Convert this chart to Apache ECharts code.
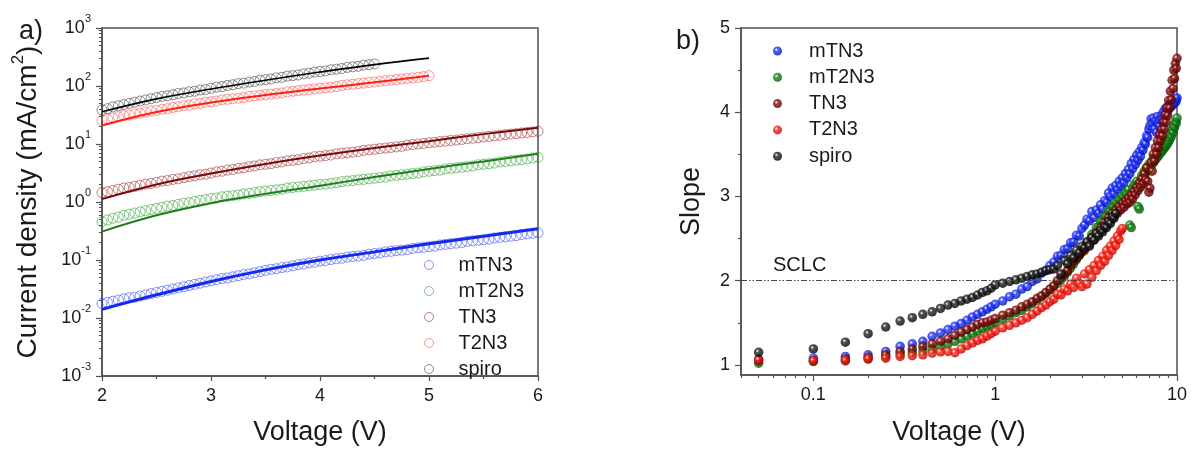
<!DOCTYPE html>
<html><head><meta charset="utf-8">
<script src="https://cdn.jsdelivr.net/npm/echarts@6/dist/echarts.min.js"></script>
<style>html,body{margin:0;padding:0;background:#fff}#c{width:1191px;height:453px}</style>
</head><body><div id="c"></div>
<script>
// ---------- DATA ----------
const names = ['mTN3','mT2N3','TN3','T2N3','spiro'];

// Panel a) : J-V (mA/cm2 vs V)
const leftV = [2,2.05,2.1,2.15,2.2,2.25,2.3,2.35,2.4,2.45,2.5,2.55,2.6,2.65,2.7,2.75,2.8,2.85,2.9,2.95,3,3.05,3.1,3.15,3.2,3.25,3.3,3.35,3.4,3.45,3.5,3.55,3.6,3.65,3.7,3.75,3.8,3.85,3.9,3.95,4,4.05,4.1,4.15,4.2,4.25,4.3,4.35,4.4,4.45,4.5,4.55,4.6,4.65,4.7,4.75,4.8,4.85,4.9,4.95,5,5.05,5.1,5.15,5.2,5.25,5.3,5.35,5.4,5.45,5.5,5.55,5.6,5.65,5.7,5.75,5.8,5.85,5.9,5.95,6];
const jMTN3 = [0.0178,0.0186,0.0195,0.0204,0.0214,0.0224,0.0229,0.0240,0.0251,0.0263,0.0275,0.0288,0.0302,0.0316,0.0331,0.0347,0.0363,0.0380,0.0398,0.0417,0.0437,0.0457,0.0479,0.0490,0.0513,0.0537,0.0562,0.0575,0.0603,0.0631,0.0661,0.0692,0.0708,0.0741,0.0759,0.0794,0.0832,0.0851,0.0891,0.0912,0.0955,0.0977,0.102,0.105,0.107,0.112,0.115,0.117,0.120,0.126,0.129,0.132,0.138,0.141,0.145,0.148,0.151,0.158,0.162,0.166,0.170,0.174,0.182,0.186,0.191,0.195,0.200,0.209,0.214,0.219,0.224,0.229,0.240,0.245,0.251,0.257,0.263,0.275,0.282,0.288,0.295];
const jMT2N3 = [0.457,0.490,0.525,0.550,0.589,0.617,0.646,0.676,0.708,0.741,0.776,0.813,0.851,0.871,0.912,0.955,0.977,1.02,1.07,1.10,1.15,1.17,1.23,1.26,1.29,1.32,1.38,1.41,1.45,1.51,1.55,1.58,1.62,1.66,1.74,1.78,1.82,1.86,1.91,1.95,2.00,2.04,2.09,2.14,2.24,2.29,2.34,2.40,2.45,2.51,2.57,2.63,2.69,2.82,2.88,2.95,3.02,3.09,3.16,3.31,3.39,3.47,3.55,3.72,3.80,3.89,3.98,4.07,4.17,4.37,4.47,4.57,4.68,4.90,5.01,5.13,5.25,5.37,5.50,5.75,5.89];
const jTN3 = [1.45,1.51,1.58,1.66,1.74,1.78,1.86,1.95,2.04,2.09,2.19,2.29,2.34,2.45,2.51,2.63,2.75,2.82,2.95,3.02,3.16,3.31,3.39,3.55,3.63,3.80,3.89,4.07,4.17,4.37,4.47,4.57,4.79,4.90,5.13,5.25,5.37,5.62,5.75,6.03,6.17,6.31,6.46,6.76,6.92,7.08,7.24,7.41,7.76,7.94,8.13,8.32,8.51,8.71,8.91,9.12,9.55,9.77,10.0,10.2,10.5,10.7,11.0,11.2,11.5,11.7,12.0,12.3,12.6,12.9,13.2,13.5,13.8,14.1,14.5,14.8,15.1,15.5,15.8,16.2,16.6];
const jT2N3 = [25.7,26.9,28.2,29.5,30.9,31.6,33.1,33.9,35.5,37.2,38.0,39.8,40.7,42.7,43.7,45.7,46.8,49.0,50.1,52.5,53.7,55.0,57.5,58.9,60.3,61.7,63.1,66.1,67.6,69.2,70.8,72.4,74.1,75.9,79.4,81.3,83.2,85.1,87.1,89.1,91.2,93.3,95.5,97.7,102,105,107,110,112,115,117,120,123,126,129,132,135,138,141,145,151];
const jSpiro = [38.9,40.7,43.7,45.7,47.9,50.1,52.5,55.0,57.5,60.3,63.1,66.1,67.6,70.8,74.1,75.9,79.4,81.3,85.1,87.1,91.2,95.5,97.7,102,105,110,112,117,120,126,129,132,138,141,148,151,155,162,166,174,178,182,191,195,200,209,214,219,229,234,240];

// fitted curves (solid lines)
const fitV = [2,2.5,3,3.5,4,4.5,5,5.5,6];
const fitMTN3 = [0.0141,0.0251,0.0427,0.0676,0.100,0.138,0.191,0.257,0.347];
const fitMT2N3 = [0.309,0.589,0.955,1.38,1.91,2.69,3.72,5.01,6.76];
const fitTN3 = [1.12,2.00,3.09,4.52,6.31,8.51,11.2,14.8,19.1];
const fitT2N3 = [20.9,35.5,51.9,70.0,90.2,116,150];
const fitSpiro = [35.9,60.0,89.0,126,174,234,302];

// Panel b) : slope vs V
const rightV = [0.05,0.1,0.15,0.2,0.25,0.3,0.35,0.4,0.45,0.5,0.55,0.6,0.65,0.7,0.75,0.8,0.85,0.9,0.95,1,1.1,1.2,1.3,1.4,1.5,1.6,1.7,1.8,1.9,2,2.1,2.2,2.3,2.4,2.5,2.6,2.7,2.8,2.9,3,3.1,3.2,3.3,3.4,3.5,3.6,3.7,3.8,3.9,4,4.1,4.2,4.3,4.4,4.5,4.6,4.7,4.8,4.9,5,5.1,5.2,5.3,5.4,5.5,5.6,5.7,5.8,5.9,6,6.1,6.2,6.3,6.4,6.5,6.6,6.7,6.8,6.9,7,7.1,7.2,7.3,7.4,7.5,7.6,7.7,7.8,7.9,8,8.1,8.2,8.3,8.4,8.5,8.6,8.7,8.8,8.9,9,9.1,9.2,9.3,9.4,9.5,9.6,9.7,9.8,9.9,10];
const sMTN3 = [1.07,1.08,1.10,1.12,1.16,1.22,1.25,1.28,1.34,1.38,1.42,1.46,1.49,1.53,1.57,1.60,1.63,1.66,1.69,1.72,
  1.76,1.81,1.84,1.90,1.93,1.99,2.02,2.09,2.12,2.18,
  2.22,2.29,2.30,2.37,2.38,2.45,2.46,2.54,2.53,2.62,
  2.66,2.73,2.71,2.82,2.75,2.84,2.80,2.90,2.85,2.95,
  2.93,3.04,3.00,3.10,3.03,3.13,3.08,3.18,3.12,3.22,
  3.16,3.27,3.22,3.32,3.27,3.39,3.33,3.44,3.38,3.49,
  3.43,3.53,3.48,3.58,3.55,3.64,3.62,3.72,3.70,3.80,
  3.84,3.92,3.87,3.93,3.80,3.90,3.76,3.95,3.88,3.84,
  3.91,3.96,3.92,4.00,3.95,4.04,3.98,4.06,4.02,4.08,
  4.05,4.10,4.07,4.12,4.09,4.14,4.11,4.16,4.13,4.17];
const sMT2N3 = [1.02,1.04,1.05,1.07,1.10,1.13,1.15,1.17,1.19,1.22,1.25,1.28,1.31,1.34,1.37,1.40,1.43,1.45,1.47,1.50,
  1.54,1.58,1.62,1.65,1.69,1.73,1.77,1.81,1.85,1.89,
  1.93,1.97,2.01,2.05,2.10,2.15,2.20,2.25,2.30,2.35,
  2.40,2.46,2.48,2.55,2.56,2.63,2.64,2.70,2.70,2.76,
  2.76,2.82,2.82,2.88,2.87,2.92,2.91,2.96,2.95,3.00,
  2.99,3.04,3.03,3.08,2.66,2.63,3.09,3.14,3.13,3.18,
  2.88,2.85,3.19,3.25,3.23,3.30,3.27,3.34,3.31,3.38,
  3.35,3.41,3.38,3.45,3.42,3.48,3.45,3.51,3.48,3.54,
  3.51,3.57,3.54,3.60,3.57,3.63,3.60,3.66,3.63,3.70,
  3.67,3.74,3.71,3.79,3.76,3.84,3.82,3.89,3.87,3.93];
const sTN3 = [1.05,1.05,1.07,1.09,1.12,1.16,1.19,1.22,1.25,1.28,1.31,1.35,1.39,1.42,1.45,1.48,1.50,1.51,1.53,1.55,
  1.59,1.62,1.65,1.69,1.72,1.75,1.79,1.82,1.86,1.90,
  1.94,2.00,2.04,2.08,2.12,2.18,2.23,2.27,2.30,2.34,
  2.36,2.44,2.43,2.51,2.49,2.57,2.55,2.63,2.61,2.69,
  2.67,2.75,2.72,2.80,2.76,2.84,2.80,2.88,2.84,2.92,
  2.87,2.95,2.91,2.98,2.93,3.02,2.97,3.06,3.02,3.11,
  3.07,3.16,3.11,3.21,3.15,3.27,3.20,3.34,3.18,3.05,
  3.10,3.40,3.30,3.50,3.42,3.58,3.50,3.66,3.58,3.73,
  3.66,3.79,3.72,3.88,3.80,3.97,3.88,4.05,3.96,4.14,
  4.05,4.25,4.15,4.38,4.28,4.50,4.40,4.58,4.52,4.64];
const sT2N3 = [1.06,1.05,1.05,1.07,1.08,1.10,1.11,1.12,1.14,1.155,1.16,1.145,1.19,1.23,1.26,1.29,1.31,1.34,1.37,1.40,
  1.44,1.47,1.50,1.53,1.56,1.60,1.64,1.68,1.71,1.75,
  1.78,1.84,1.83,1.90,1.88,1.96,1.92,2.03,1.97,1.93,
  2.08,1.96,2.13,2.04,2.18,2.12,2.24,2.18,2.29,2.23,
  2.36,2.30,2.41,2.36,2.47,2.42,2.53,2.49,2.59,2.62];
const sSpiro = [1.15,1.19,1.27,1.37,1.45,1.52,1.56,1.60,1.63,1.67,1.71,1.73,1.76,1.78,1.80,1.83,1.86,1.88,1.91,1.95,
  1.97,1.99,2.01,2.03,2.05,2.07,2.08,2.10,2.12,2.13,
  2.14,2.18,2.08,2.24,2.20,2.30,2.27,2.36,2.33,2.41,
  2.39,2.46,2.41,2.51,2.48,2.56,2.53,2.60,2.58,2.64,
  2.63,2.70,2.68,2.76,2.74,2.80];
const sclcSlope = 2;

// tick labels
const leftXTicks = [2,3,4,5,6];
const leftYDecades = [-3,-2,-1,0,1,2,3];
const rightXMajor = [0.1,1,10];
const rightXMinor = [0.04,0.05,0.06,0.07,0.08,0.09,0.2,0.3,0.4,0.5,0.6,0.7,0.8,0.9,2,3,4,5,6,7,8,9];
const rightYMajor = [1,2,3,4,5];
const rightYMinor = [1.5,2.5,3.5,4.5];

// ---------- STYLE ----------
const FONT = 'Liberation Sans, Arial, Helvetica, sans-serif';
const TXT = '#1a1a1a', AX = '#505050';
const circleColors = ['rgba(40,60,255,0.7)','rgba(30,150,30,0.7)','rgba(150,30,30,0.7)','rgba(255,50,50,0.65)','rgba(50,50,50,0.7)'];
const lineColors = ['#1428f0','#1e7d1e','#7a0a0a','#ff2010','#000000'];
const lineWidths = [3,2,2,2,1.6];
const sphereBase = ['#2a3cff','#1a921a','#8c1212','#ff2c1c','#262626'];
const sphereDark = ['#0010b0','#005200','#4a0000','#c00000','#000000'];
function sphere(base, dark){
  return {type:'radial', x:0.38, y:0.36, r:0.64, colorStops:[
    {offset:0,color:'#ffffff'},{offset:0.3,color:base},{offset:1,color:dark}]};
}
const L = v => Math.log10(v);

const leftJ = [jMTN3,jMT2N3,jTN3,jT2N3,jSpiro];
const leftFit = [fitMTN3,fitMT2N3,fitTN3,fitT2N3,fitSpiro];
const rightS = [sMTN3,sMT2N3,sTN3,sT2N3,sSpiro];

const series = [];
names.forEach((n,i)=>{
  series.push({
    name:n, type:'scatter', xAxisIndex:0, yAxisIndex:0, symbol:'circle', symbolSize:10,
    itemStyle:{color:'transparent', borderColor:circleColors[i], borderWidth:1},
    data: leftJ[i].map((j,k)=>[leftV[k], L(j)]), z:2, silent:true
  });
});
names.forEach((n,i)=>{
  series.push({
    name:n+' fit', type:'line', xAxisIndex:0, yAxisIndex:0, showSymbol:false, smooth:0.4,
    lineStyle:{color:lineColors[i], width:lineWidths[i]},
    data: leftFit[i].map((j,k)=>[fitV[k], L(j)]), z:4, silent:true
  });
});
names.forEach((n,i)=>{
  const s = {
    name:'b:'+n, type:'scatter', xAxisIndex:1, yAxisIndex:2, symbol:'circle', symbolSize:9.5,
    itemStyle:{color:sphere(sphereBase[i], sphereDark[i])},
    data: rightS[i].map((v,k)=>[L(rightV[k]), v]), z:3+i*0.01, silent:true
  };
  if (i===0) {
    s.markLine = {silent:true, symbol:'none', animation:false,
      data:[{yAxis:sclcSlope}],
      lineStyle:{type:[6,2,1.5,2,1.5,2], color:'#444', width:1},
      label:{show:true, position:'insideStartTop', formatter:'SCLC', fontSize:20, fontFamily:FONT, color:TXT, padding:[0,0,0,27], distance:5}
    };
  }
  series.push(s);
});

const leftMinorY = [];
for (let d=-3; d<3; d++) for (let k=2; k<=9; k++) leftMinorY.push(d + L(k));

const axisLineS = {show:true, onZero:false, lineStyle:{color:AX, width:1.5}};
const labelS = {fontSize:18, fontFamily:FONT, color:TXT};

const option = {
  animation:false,
  backgroundColor:'#ffffff',
  title:[
    {text:'a)', left:19, top:18, padding:0, textStyle:{fontSize:27, fontWeight:'normal', fontFamily:FONT, color:TXT}},
    {text:'b)', left:676, top:28, padding:0, textStyle:{fontSize:27, fontWeight:'normal', fontFamily:FONT, color:TXT}}
  ],
  grid:[
    {left:102, top:28, width:436, height:353, show:true, borderColor:AX, borderWidth:1.5, backgroundColor:'transparent'},
    {left:741, top:28, width:436, height:354, show:true, borderColor:AX, borderWidth:1.5, backgroundColor:'transparent'}
  ],
  xAxis:[
    {type:'value', gridIndex:0, position:'bottom', min:2, max:6, interval:1,
     axisLine:axisLineS, axisTick:{show:true, length:5, lineStyle:{color:AX, width:1.2}},
     minorTick:{show:true, splitNumber:2, length:3, lineStyle:{color:AX, width:1.2}},
     splitLine:{show:false}, minorSplitLine:{show:false},
     axisLabel:Object.assign({margin:11, formatter: v => leftXTicks.includes(v) ? String(v) : ''}, labelS),
     name:'Voltage (V)', nameLocation:'middle', nameGap:42,
     nameTextStyle:{fontSize:27, fontFamily:FONT, color:TXT, lineHeight:30}},
    {type:'value', gridIndex:1, position:'bottom', min:L(0.04), max:L(10),
     axisLine:axisLineS,
     axisTick:{show:true, length:6, customValues:rightXMajor.map(L), lineStyle:{color:AX, width:1.2}},
     splitLine:{show:false},
     axisLabel:Object.assign({margin:11, customValues:rightXMajor.map(L),
       formatter: v => String(Number(Math.pow(10,v).toPrecision(3)))}, labelS),
     name:'Voltage (V)', nameLocation:'middle', nameGap:43,
     nameTextStyle:{fontSize:27, fontFamily:FONT, color:TXT, lineHeight:30}},
    {type:'value', gridIndex:1, position:'bottom', min:L(0.04), max:L(10),
     axisLine:{show:false, onZero:false},
     axisTick:{show:true, length:3, customValues:rightXMinor.map(L), lineStyle:{color:AX, width:1.2}},
     splitLine:{show:false}, axisLabel:{show:false}}
  ],
  yAxis:[
    {type:'value', gridIndex:0, position:'left', min:-3, max:3, interval:1,
     axisLine:axisLineS, axisTick:{show:true, length:6, lineStyle:{color:AX, width:1.2}},
     splitLine:{show:false},
     axisLabel:{margin:11, formatter: v => leftYDecades.includes(v) ? '{b|10}{s|' + v + '}' : '',
       rich:{b:{fontSize:18, fontFamily:FONT, color:TXT, lineHeight:30},
             s:{fontSize:11, fontFamily:FONT, color:TXT, lineHeight:30, verticalAlign:'top'}}},
     name:'{a|Current density (mA/cm}{s|2}{a|)}', nameLocation:'middle', nameGap:56, nameRotate:90,
     nameTextStyle:{rich:{a:{fontSize:28, fontFamily:FONT, color:TXT, lineHeight:36},
                          s:{fontSize:17, fontFamily:FONT, color:TXT, lineHeight:36, verticalAlign:'top'}}}},
    {type:'value', gridIndex:0, position:'left', min:-3, max:3,
     axisLine:{show:false, onZero:false},
     axisTick:{show:true, length:3, customValues:leftMinorY, lineStyle:{color:AX, width:1}},
     splitLine:{show:false}, axisLabel:{show:false}},
    {type:'value', gridIndex:1, position:'left', min:0.88, max:5,
     axisLine:axisLineS,
     axisTick:{show:true, length:6, customValues:rightYMajor, lineStyle:{color:AX, width:1.2}},
     splitLine:{show:false},
     axisLabel:Object.assign({margin:11, customValues:rightYMajor}, labelS),
     name:'Slope', nameLocation:'middle', nameGap:34, nameRotate:90,
     nameTextStyle:{fontSize:27, fontFamily:FONT, color:TXT, lineHeight:30}},
    {type:'value', gridIndex:1, position:'left', min:0.88, max:5,
     axisLine:{show:false, onZero:false},
     axisTick:{show:true, length:3, customValues:rightYMinor, lineStyle:{color:AX, width:1.2}},
     splitLine:{show:false}, axisLabel:{show:false}}
  ],
  legend:[
    {orient:'vertical', left:419, top:250, itemWidth:9, itemHeight:9, itemGap:6, icon:'circle',
     selectedMode:false, textStyle:{fontSize:20, lineHeight:20, fontFamily:FONT, color:TXT, padding:[0,0,0,20]},
     data: names.map((n,i)=>({name:n, itemStyle:{color:'transparent', borderColor:circleColors[i], borderWidth:1}}))},
    {orient:'vertical', left:768, top:36, itemWidth:9, itemHeight:9, itemGap:6.3, icon:'circle',
     selectedMode:false, textStyle:{fontSize:20, lineHeight:20, fontFamily:FONT, color:TXT, padding:[0,0,0,22]},
     formatter: n => n.slice(2),
     data: names.map(n=>'b:'+n)}
  ],
  series: series
};

const chart = echarts.init(document.getElementById('c'), null, {renderer:'canvas'});
chart.setOption(option);
</script>
</body></html>
